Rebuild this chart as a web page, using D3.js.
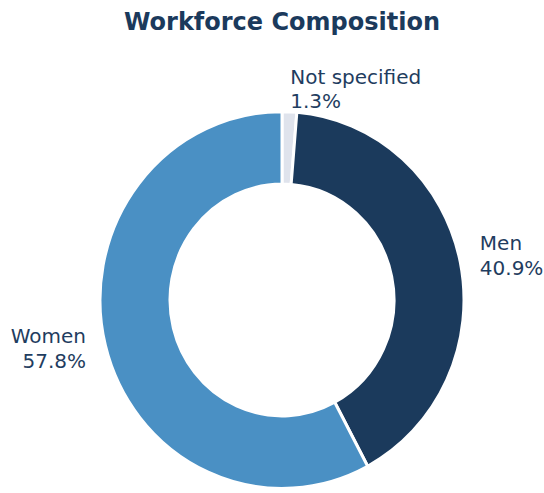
<!DOCTYPE html>
<html>
<head>
<meta charset="utf-8">
<script src="https://cdn.jsdelivr.net/npm/d3@7"></script>
<style>
  html, body { margin: 0; padding: 0; background: #ffffff; }
  svg { display: block; }
</style>
</head>
<body>
<script>
const categories = ["Not specified", "Men", "Women"];
const values = [1.3, 40.9, 57.8];
const colors = ["#dfe3ec", "#1b3a5c", "#4a90c4"];
const title = "Workforce Composition";

const W = 544, H = 493;
const cx = 282, cy = 300;
const outerR = 182, innerR = 112;
const yScale = 1.035;

const svg = d3.select("body").append("svg")
  .attr("width", W).attr("height", H)
  .style("font-family", "'DejaVu Sans', sans-serif");

svg.append("text")
  .attr("x", 282).attr("y", 30)
  .attr("text-anchor", "middle")
  .attr("font-size", 24).attr("font-weight", "bold")
  .attr("fill", "#1b3a5c")
  .text(title);

const pie = d3.pie().sort(null).value(d => d)(values);
const arc = d3.arc().innerRadius(innerR).outerRadius(outerR);
const labelArc = d3.arc().innerRadius(outerR * 1.11).outerRadius(outerR * 1.11);

const g = svg.append("g").attr("transform", `translate(${cx},${cy})`);

g.append("g").attr("transform", `scale(1,${yScale})`)
  .selectAll("path.slice").data(pie).join("path")
  .attr("class", "slice")
  .attr("d", arc)
  .attr("fill", (d, i) => colors[i])
  .attr("stroke", "#ffffff")
  .attr("stroke-width", 3)
  .attr("vector-effect", "non-scaling-stroke")
  .attr("stroke-linejoin", "round");

const lh = 24.5;
const labels = g.selectAll("text.lbl").data(pie).join("text")
  .attr("class", "lbl")
  .attr("font-size", 20)
  .attr("fill", "#1f3d60")
  .attr("text-anchor", d => labelArc.centroid(d)[0] >= 0 ? "start" : "end")
  .attr("transform", d => { const c = labelArc.centroid(d); return `translate(${c[0]},${c[1] * yScale})`; });

labels.append("tspan").attr("x", 0).attr("y", -lh / 2 + 5)
  .text((d, i) => categories[i]);
labels.append("tspan").attr("x", 0).attr("y", lh / 2 + 5)
  .text((d, i) => values[i].toFixed(1) + "%");
</script>
</body>
</html>
